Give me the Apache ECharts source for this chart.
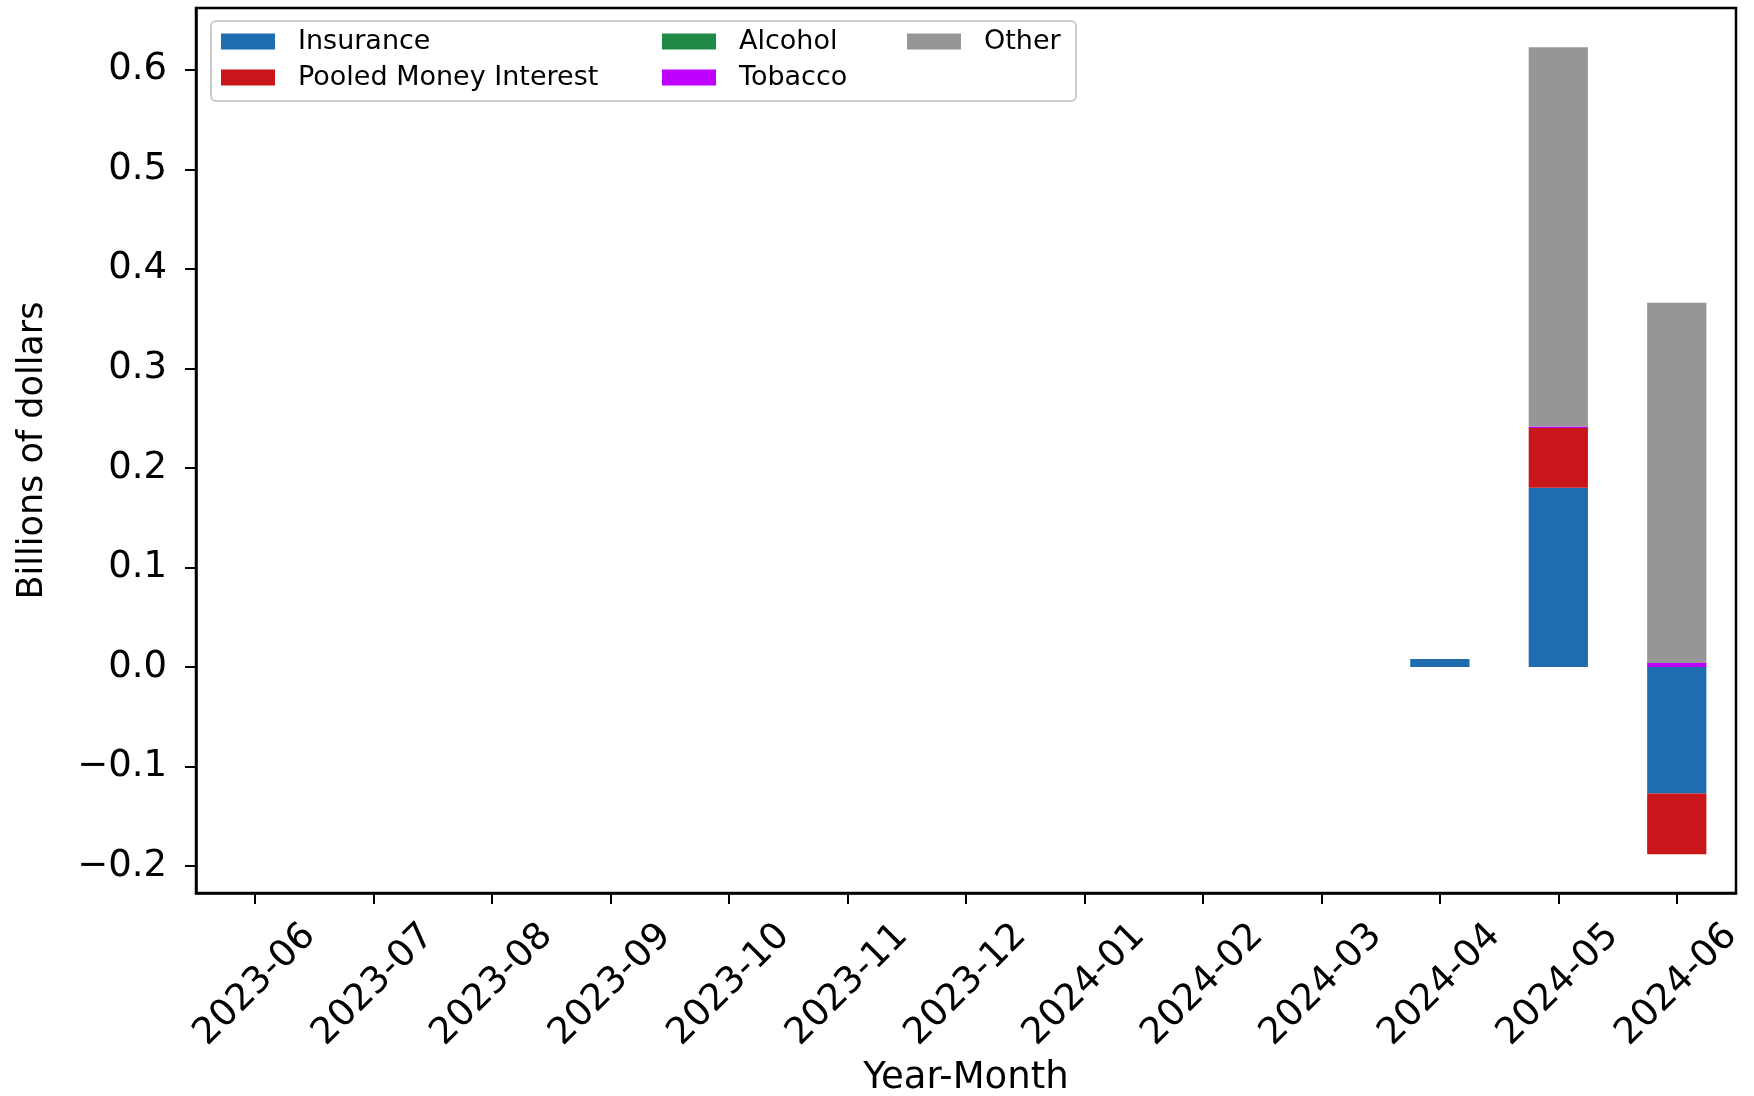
<!DOCTYPE html>
<html>
<head>
<meta charset="utf-8">
<script src="https://cdn.jsdelivr.net/npm/echarts@6/dist/echarts.min.js"></script>
<style>
html,body{margin:0;padding:0;background:#fff;}
#chart{width:1754px;height:1096px;}
</style>
</head>
<body>
<div id="chart"></div>
<script>
const months = ['2023-06','2023-07','2023-08','2023-09','2023-10','2023-11','2023-12','2024-01','2024-02','2024-03','2024-04','2024-05','2024-06'];
const insurance = [0,0,0,0,0,0,0,0,0,0,0.008,0.180,-0.127];
const pooledMoneyInterest = [0,0,0,0,0,0,0,0,0,0,0,0.060,-0.061];
const alcohol = [0,0,0,0,0,0,0,0,0,0,0,0,0];
const tobacco = [0,0,0,0,0,0,0,0,0,0,0,0.0015,0.004];
const other = [0,0,0,0,0,0,0,0,0,0,0,0.381,0.362];
const yTicks = [-0.2,-0.1,0.0,0.1,0.2,0.3,0.4,0.5,0.6];
const yMin = -0.227, yMax = 0.662;

const FONT = 'DejaVu Sans';
const chart = echarts.init(document.getElementById('chart'), null, {renderer:'canvas'});

function mkSeries(name, data, color){
  return {name, type:'bar', stack:'total', data, barWidth:'50%',
    itemStyle:{color}, emphasis:{disabled:true}};
}

const legendCommon = {
  orient:'vertical', itemWidth:54, itemHeight:16, icon:'rect', itemGap:9, padding:0,
  textStyle:{fontFamily:FONT, fontSize:27, color:'#000', padding:[0,0,0,18]},
  selectedMode:false
};

chart.setOption({
  animation:false,
  backgroundColor:'#fff',
  textStyle:{fontFamily:FONT},
  grid:{left:196, right:18, top:8, bottom:203, show:true, borderColor:'#000', borderWidth:2.5, backgroundColor:'transparent', containLabel:false, outerBoundsMode:'none'},
  graphic:[{type:'rect', left:210, top:20, z:-1, shape:{width:865, height:80, r:5},
    style:{fill:'rgba(255,255,255,0.8)', stroke:'#cccccc', lineWidth:2}}],
  legend:[
    Object.assign({}, legendCommon, {left:221, top:28, data:['Insurance','Pooled Money Interest']}),
    Object.assign({}, legendCommon, {left:662, top:28, data:['Alcohol','Tobacco']}),
    Object.assign({}, legendCommon, {left:907, top:28, data:['Other']})
  ],
  xAxis:{
    type:'category', data:months, boundaryGap:true,
    name:'Year-Month', nameLocation:'middle', nameGap:166,
    nameTextStyle:{fontFamily:FONT, fontSize:37, color:'#000'},
    axisLine:{show:true, onZero:false, lineStyle:{color:'#000', width:2.5}},
    axisTick:{show:true, alignWithLabel:true, length:11, lineStyle:{color:'#000', width:2}},
    axisLabel:{rotate:45, align:'center', verticalAlign:'middle', margin:92, interval:0,
      fontFamily:FONT, fontSize:37, color:'#000'},
    splitLine:{show:false}
  },
  yAxis:{
    type:'value', min:yMin, max:yMax,
    name:'Billions of dollars', nameLocation:'middle', nameGap:146,
    nameTextStyle:{fontFamily:FONT, fontSize:35, color:'#000'},
    axisLine:{show:true, lineStyle:{color:'#000', width:2.5}},
    axisTick:{show:true, length:11, lineStyle:{color:'#000', width:2}, customValues:yTicks},
    axisLabel:{margin:29, fontFamily:FONT, fontSize:37, color:'#000', customValues:yTicks,
      formatter:v => { const s = Math.abs(v) < 1e-9 ? '0.0' : v.toFixed(1); return s.replace('-', '\u2212'); }},
    splitLine:{show:false}
  },
  series:[
    mkSeries('Insurance', insurance, '#1f6db0'),
    mkSeries('Pooled Money Interest', pooledMoneyInterest, '#c8161b'),
    mkSeries('Alcohol', alcohol, '#1f8a45'),
    mkSeries('Tobacco', tobacco, '#c000ff'),
    mkSeries('Other', other, '#969696')
  ]
});
</script>
</body>
</html>
